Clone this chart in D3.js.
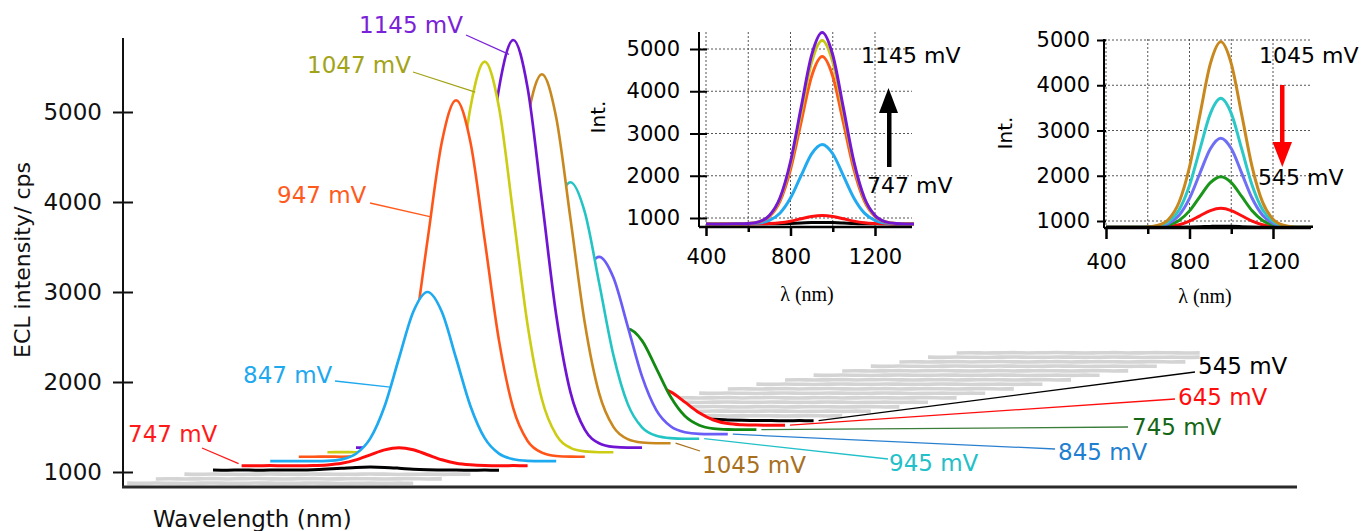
<!DOCTYPE html>
<html><head><meta charset="utf-8">
<script src="https://cdn.jsdelivr.net/npm/d3@7"></script>
<style>
html,body{margin:0;padding:0;background:#fff;}
svg{display:block;font-family:"DejaVu Sans",sans-serif;}
</style></head><body>
<svg id="c" width="1366" height="531"></svg>
<script>
// ---------------- DATA ----------------
const wavelengths = [400,450,500,550,600,650,700,750,800,850,900,950,1000,1050,1100,1150,1200,1250,1300,1350,1400];
// forward scan
const s647  = [861,860,862,860,861,861,862,865,872,881,891,895,891,882,871,865,862,861,860,861,860];
const s747  = [860,860,861,860,860,862,869,887,925,981,1036,1060,1037,982,926,888,870,862,860,861,860];
const s847  = [860,860,860,861,864,881,943,1114,1471,2001,2518,2740,2520,2004,1474,1116,944,882,864,860,860];
const s947  = [860,860,861,860,868,904,1034,1395,2147,3264,4353,4820,4356,3268,2150,1397,1035,905,868,861,860];
const s1047 = [860,861,860,860,869,908,1051,1446,2271,3494,4688,5200,4690,3497,2274,1448,1052,909,869,860,860];
const s1145 = [860,860,860,861,869,910,1059,1472,2332,3610,4855,5390,4858,3613,2335,1474,1060,910,869,860,861];
// reverse scan
const s1045 = [860,860,861,860,868,905,1040,1414,2193,3349,4476,4960,4479,3352,2196,1416,1041,905,868,860,860];
const s945  = [860,861,860,860,866,891,985,1245,1786,2590,3374,3710,3377,2593,1789,1247,986,892,866,860,860];
const s845  = [860,860,860,860,864,882,947,1126,1500,2056,2598,2830,2600,2059,1502,1128,948,882,864,861,860];
const s745  = [860,860,861,860,862,872,909,1011,1224,1540,1848,1980,1850,1542,1226,1012,910,872,862,860,860];
const s645  = [860,861,860,860,861,865,878,917,997,1115,1230,1280,1231,1116,998,918,878,865,861,860,860];
const s545  = [861,860,861,860,860,861,861,863,868,874,881,885,882,875,869,864,862,861,860,861,860];
// flat background scans (grey)
const grayIndex = [-3,-2,-1,12,13,14,15,16,17,18,19,20,21,22,23,24,25,26];
const grayEnd   = [1400,1400,1400,1400,1400,1400,1400,1400,1400,1400,1400,1400,1400,1400,1400,1400,1350,1250];
const grayA = [866,864,867,865,863,866,868,865,864,867,866,864,865,867,866,863,865,866,864,866,865];
const grayB = [863,865,862,864,866,863,865,867,864,862,865,866,863,864,866,865,862,864,866,863,864];
// ticks
const yTicksMain   = [1000,2000,3000,4000,5000];
const insetYTicks  = [1000,2000,3000,4000,5000];
const insetXTicks  = [400,600,800,1000,1200];
const insetXLabels = [400,800,1200];
// series labels
const mainNames = ["647 mV","747 mV","847 mV","947 mV","1047 mV","1145 mV","1045 mV","945 mV","845 mV","745 mV","645 mV","545 mV"];

// ---------------- LAYOUT ----------------
const fmt = d3.format("d");
const svg = d3.select("#c");
const plot = {left:123, right:1297, top:38, bottom:487};
const STEP_NM = 100, STEP_CPS = 50, BASE_CPS = 160;   // waterfall shift per trace
const xM = d3.scaleLinear().domain([400,1400]).range([213,499]);
const yM = d3.scaleLinear().domain([1000,5000]).range([472,112]);

const mainVals = [s647,s747,s847,s947,s1047,s1145,s1045,s945,s845,s745,s645,s545];
const mainColors = ["#000000","#ff0d0d","#1eaaf0","#ff5518","#cccc12","#7014d4","#c8881e","#22c4c4","#6a5cf6","#128a12","#ff0d0d","#000000"];
const mainWidths = [3,3,2.7,2.6,2.6,2.7,2.6,2.6,2.7,2.8,3,3];

const lineGen = d3.line().x(d=>d[0]).y(d=>d[1]).curve(d3.curveMonotoneX);
const areaGen = d3.area().x(d=>d[0]).y0(plot.bottom-1).y1(d=>d[1]).curve(d3.curveMonotoneX);

const layers = [];
mainVals.forEach((v,i)=>layers.push({idx:i, wl:wavelengths, v, color:mainColors[i], w:mainWidths[i]}));
grayIndex.forEach((gi,k)=>{
  const vals = k%2 ? grayB : grayA;
  const wl = wavelengths.filter(w=>w<=grayEnd[k]);
  layers.push({idx:gi, wl, v:vals.slice(0,wl.length), color:"#d4d4d4", w:3.6});
});
layers.sort((a,b)=>b.idx-a.idx);

const gMain = svg.append("g");
function pxy(idx,w,v){ return [xM(w+STEP_NM*idx), yM(v+BASE_CPS+STEP_CPS*idx)]; }
layers.forEach(L=>{
  const pts = L.wl.map((w,k)=>pxy(L.idx,w,L.v[k]));
  gMain.append("path").attr("d",areaGen(pts)).attr("fill","#fff");
  gMain.append("path").attr("d",lineGen(pts)).attr("fill","none")
    .attr("stroke",L.color).attr("stroke-width",L.w).attr("stroke-linejoin","round");
});

function valAt(v,w){
  const i = d3.bisectLeft(wavelengths,w);
  if (wavelengths[i]===w) return v[i];
  const t = (w-wavelengths[i-1])/(wavelengths[i]-wavelengths[i-1]);
  return v[i-1]+(v[i]-v[i-1])*t;
}

// annotations: text box left/centre, leader start, target on trace
const ann = [
 {i:1,  color:"#ff1a1a", tx:128,  ty:434, lx:202,  ly:448, target:"start", lc:"#ff1a1a"},
 {i:2,  color:"#1ea8ee", tx:243,  ty:375, lx:335,  ly:381, target:820,  lc:"#1ea8ee"},
 {i:3,  color:"#ff5a1e", tx:277,  ty:195, lx:370,  ly:203, target:862,  lc:"#ff5a1e"},
 {i:4,  color:"#a3a318", tx:307,  ty:65,  lx:413,  ly:72,  target:917,  lc:"#a3a318"},
 {i:5,  color:"#7a22d8", tx:359,  ty:25,  lx:466,  ly:35,  target:935,  lc:"#7a22d8"},
 {i:6,  color:"#a8701e", tx:702,  ty:465, lx:700,  ly:451, target:"end", lc:"#a8701e"},
 {i:7,  color:"#22c0c8", tx:889,  ty:463, lx:888,  ly:459, target:"end", lc:"#22c0c8"},
 {i:8,  color:"#1f7fd0", tx:1058, ty:452, lx:1055, ly:449, target:"end", lc:"#2a80d0"},
 {i:9,  color:"#156615", tx:1132, ty:427, lx:1128, ly:427, target:"end", lc:"#3b7d3b"},
 {i:10, color:"#ff0d0d", tx:1178, ty:397, lx:1175, ly:399, target:"end", lc:"#ff0d0d"},
 {i:11, color:"#000000", tx:1198, ty:366, lx:1195, ly:372, target:"end", lc:"#000000"}
];
const gAnn = svg.append("g");
ann.forEach(a=>{
  const v = mainVals[a.i];
  let p;
  if (a.target==="start"){ p = pxy(a.i,400,v[0]); p[0]-=3; p[1]-=2; }
  else if (a.target==="end"){ p = pxy(a.i,1400,v[v.length-1]); p[0]+=5; }
  else { p = pxy(a.i,a.target,valAt(v,a.target)); }
  gAnn.append("line").attr("x1",a.lx).attr("y1",a.ly).attr("x2",p[0]).attr("y2",p[1])
    .attr("stroke",a.lc).attr("stroke-width",1.3);
  gAnn.append("text").attr("x",a.tx).attr("y",a.ty+8).attr("font-size",23)
    .attr("fill",a.color).text(mainNames[a.i]);
});

// main axes
const ga = svg.append("g").attr("transform",`translate(${plot.left},0)`)
  .call(d3.axisLeft(yM).tickValues(yTicksMain).tickFormat(fmt).tickSize(10).tickPadding(11).tickSizeOuter(0));
ga.attr("font-size",null).attr("font-family",null);
ga.select(".domain").remove();
ga.selectAll("line").attr("stroke","#111").attr("stroke-width",2);
ga.selectAll("text").attr("font-size",23).attr("fill","#111");
const ga2 = svg.append("g").attr("transform",`translate(${plot.left},0)`)
  .call(d3.axisLeft(yM).tickValues(yTicksMain).tickSize(-10).tickFormat("").tickSizeOuter(0));
ga2.select(".domain").remove();
ga2.selectAll("line").attr("stroke","#111").attr("stroke-width",2);
svg.append("line").attr("x1",plot.left).attr("x2",plot.left).attr("y1",plot.top).attr("y2",plot.bottom)
  .attr("stroke","#111").attr("stroke-width",2);
svg.append("line").attr("x1",plot.left-1).attr("x2",plot.right).attr("y1",plot.bottom).attr("y2",plot.bottom)
  .attr("stroke","#2a2a2a").attr("stroke-width",3);
svg.append("text").attr("transform","translate(30,260) rotate(-90)").attr("text-anchor","middle")
  .attr("font-size",22).attr("fill","#111").text("ECL intensity/ cps");
svg.append("text").attr("x",153).attr("y",527).attr("font-size",23).attr("fill","#111").text("Wavelength (nm)");

// ---------------- INSETS ----------------
function drawInset(o){
  const x = d3.scaleLinear().domain([400,1200]).range(o.xr);
  const y = d3.scaleLinear().domain([1000,5000]).range(o.yr);
  const g = svg.append("g");
  g.selectAll(".gx").data(insetXTicks).join("line").attr("class","gx")
    .attr("x1",d=>x(d)).attr("x2",d=>x(d)).attr("y1",o.top).attr("y2",o.bottom)
    .attr("stroke","#555").attr("stroke-width",1).attr("stroke-dasharray","2,2");
  g.selectAll(".gy").data(insetYTicks).join("line").attr("class","gy")
    .attr("x1",o.left).attr("x2",o.right).attr("y1",d=>y(d)).attr("y2",d=>y(d))
    .attr("stroke","#555").attr("stroke-width",1).attr("stroke-dasharray","2,2");
  const cid = "clip"+o.id;
  svg.append("clipPath").attr("id",cid).append("rect")
    .attr("x",o.left).attr("y",o.top-10).attr("width",o.right-o.left+2).attr("height",o.bottom-o.top+10);
  const gc = g.append("g").attr("clip-path",`url(#${cid})`);
  const ln = d3.line().x((d,k)=>x(wavelengths[k])).y(d=>y(d)).curve(d3.curveMonotoneX);
  o.series.forEach(s=>{
    gc.append("path").datum(s.v).attr("d",ln).attr("fill","none")
      .attr("stroke",s.color).attr("stroke-width",3).attr("stroke-linejoin","round");
  });
  // axes
  const ay = g.append("g").attr("transform",`translate(${o.left},0)`)
    .call(d3.axisLeft(y).tickValues(insetYTicks).tickFormat(fmt).tickSize(o.ytl).tickPadding(o.ypad).tickSizeOuter(0));
  ay.attr("font-size",null).attr("font-family",null);
  ay.select(".domain").remove();
  ay.selectAll("line").attr("stroke","#000").attr("stroke-width",2);
  ay.selectAll("text").attr("font-size",21).attr("fill","#000");
  const ay2 = g.append("g").attr("transform",`translate(${o.left},0)`)
    .call(d3.axisLeft(y).tickValues(insetYTicks).tickSize(-o.ytr).tickFormat("").tickSizeOuter(0));
  ay2.select(".domain").remove();
  ay2.selectAll("line").attr("stroke","#000").attr("stroke-width",2);
  const ax = g.append("g").attr("transform",`translate(0,${o.bottom})`)
    .call(d3.axisBottom(x).tickValues(insetXLabels).tickFormat(fmt).tickSize(o.xtl).tickPadding(o.xpad).tickSizeOuter(0));
  ax.attr("font-size",null).attr("font-family",null);
  ax.select(".domain").remove();
  ax.selectAll("line").attr("stroke","#000").attr("stroke-width",2.5);
  ax.selectAll("text").attr("font-size",21).attr("fill","#000");
  const ax2 = g.append("g").attr("transform",`translate(0,${o.bottom})`)
    .call(d3.axisBottom(x).tickValues(insetXTicks.filter(t=>!insetXLabels.includes(t))).tickSize(o.xtm).tickFormat("").tickSizeOuter(0));
  ax2.select(".domain").remove();
  ax2.selectAll("line").attr("stroke","#000").attr("stroke-width",2.5);
  g.append("line").attr("x1",o.left).attr("x2",o.left).attr("y1",o.top).attr("y2",o.bottom)
    .attr("stroke","#000").attr("stroke-width",2);
  g.append("line").attr("x1",o.left).attr("x2",o.right).attr("y1",o.bottom).attr("y2",o.bottom)
    .attr("stroke","#000").attr("stroke-width",2.5);
  g.append("text").attr("transform",`translate(${o.intX},${o.intY}) rotate(-90)`).attr("text-anchor","middle")
    .attr("font-size",20).attr("fill","#000").text("Int.");
  g.append("text").attr("x",o.lamX).attr("y",o.lamY).attr("text-anchor","middle")
    .attr("font-family","'Liberation Serif','Times New Roman',serif").attr("font-size",20).attr("fill","#000").text("λ (nm)");
  g.append("text").attr("x",o.t1x).attr("y",o.t1y+8).attr("font-size",22).attr("fill","#000").text(o.t1);
  g.append("text").attr("x",o.t2x).attr("y",o.t2y+8).attr("font-size",22).attr("fill","#000").text(o.t2);
  return g;
}

const in1 = drawInset({id:1, xr:[706,875], yr:[218,49], left:699, right:912, top:32, bottom:227,
  ytl:9, ytr:8, ypad:10, xtl:9, xtm:5, xpad:13,
  series:[{v:s647,color:"#000"},{v:s747,color:"#ff1010"},{v:s847,color:"#22aaf0"},
          {v:s947,color:"#ff5a1a"},{v:s1047,color:"#c8c814"},{v:s1145,color:"#7418d4"}],
  intX:605, intY:117, lamX:807, lamY:301, t1:"1145 mV", t1x:861, t1y:55, t2:"747 mV", t2x:867, t2y:185});
in1.append("rect").attr("x",887).attr("y",110).attr("width",4.5).attr("height",57).attr("fill","#000");
in1.append("path").attr("d","M879,113 L898,113 L888.5,88 Z").attr("fill","#000");

const in2 = drawInset({id:2, xr:[1106,1273], yr:[221,40], left:1104, right:1311, top:39, bottom:228,
  ytl:7, ytr:2, ypad:7, xtl:11, xtm:6, xpad:15,
  series:[{v:s645,color:"#ff1010"},{v:s745,color:"#1a961a"},{v:s845,color:"#6f6ff5"},
          {v:s945,color:"#2cc8c8"},{v:s1045,color:"#c8881e"},{v:s545,color:"#000"}],
  intX:1012, intY:133, lamX:1205, lamY:303, t1:"1045 mV", t1x:1259, t1y:55, t2:"545 mV", t2x:1258, t2y:177});
in2.append("rect").attr("x",1280).attr("y",85).attr("width",4.5).attr("height",60).attr("fill","#ff0000");
in2.append("path").attr("d","M1272.5,142 L1292,142 L1282.3,167 Z").attr("fill","#ff0000");
</script>
</body></html>
